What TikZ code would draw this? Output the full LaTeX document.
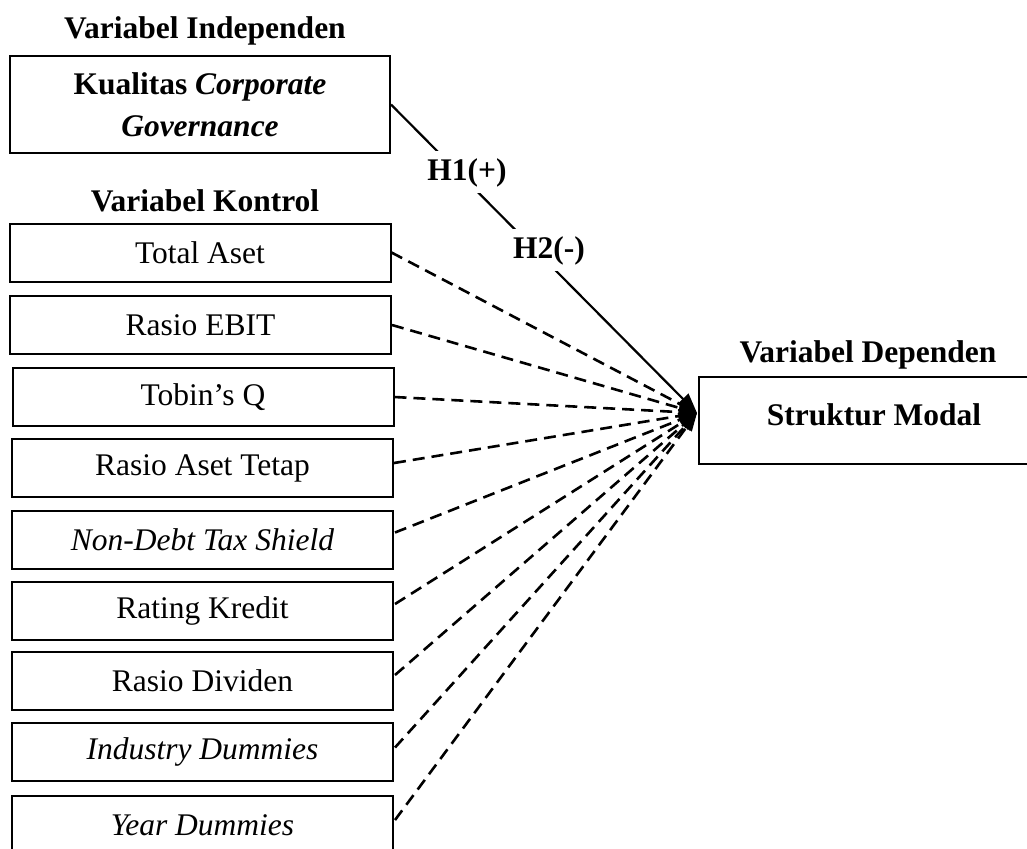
\documentclass[tikz,border=0pt]{standalone}
\usepackage{fontspec}
\setmainfont{Liberation Serif}
\usetikzlibrary{arrows.meta,calc}
\tikzset{
  ctrl/.style={draw, line width=1pt, minimum width=190.5pt, minimum height=29pt, inner sep=0pt, font=\fontsize{15.75}{20}\selectfont},
  title/.style={anchor=base, font=\fontsize{15.75}{20}\selectfont\bfseries},
  hyp/.style={anchor=base, fill=white, font=\fontsize{15.75}{20}\selectfont\bfseries},
  dashline/.style={line width=1.3pt, dash pattern=on 6pt off 3.5pt, -{Triangle[length=9pt,width=6.5pt]}},
  solidline/.style={line width=1.1pt, -{Triangle[length=10pt,width=7.5pt]}}
}
\begin{document}
\begin{tikzpicture}[x=0.5pt,y=-0.5pt]
\useasboundingbox (0,0) rectangle (1027,848);
\clip (0,0) rectangle (1027,848);
% titles
\node[title] (tind) at (205,38) {Variabel Independen};
\node[title] (tkon) at (205,211) {Variabel Kontrol};
\node[title] (tdep) at (868,362) {Variabel Dependen};
% independent box
\node[draw, line width=1pt, minimum width=190pt, minimum height=48.5pt, inner sep=0pt, align=center,
      font=\fontsize{15.75}{21}\selectfont\bfseries] (iv) at (200,104.5)
  {Kualitas \textit{Corporate}\\\textit{Governance}};
% dependent box
\node[draw, line width=1pt, minimum width=175pt, minimum height=43.5pt, inner sep=0pt] (dep) at (874,420.5) {};
\node[title] (depl) at (874,425) {Struktur Modal};
\coordinate (tip) at (697,413);
% control boxes
\node[ctrl] (b1) at (200,252.5) {Total Aset};
\node[ctrl] (b2) at (200.5,325) {Rasio EBIT};
\node[ctrl] (b3) at (203,397) {Tobin’s Q};
\node[ctrl] (b4) at (202.5,468) {Rasio Aset Tetap};
\node[ctrl] (b5) at (202.5,539.5) {\textit{Non-Debt Tax Shield}};
\node[ctrl] (b6) at (202.5,611) {Rating Kredit};
\node[ctrl] (b7) at (202.5,681) {Rasio Dividen};
\node[ctrl] (b8) at (202.5,751.5) {\textit{Industry Dummies}};
\node[ctrl] (b9) at (202.5,825) {\textit{Year Dummies}};
% solid hypothesis line
\draw[solidline] (iv.east) -- (tip);
\node[hyp] (h1) at (467,180) {H1(+)};
\node[hyp] (h2) at (549,258) {H2(-)};
% dashed control lines
\draw[dashline] (b1.east) -- (tip);
\draw[dashline] (b2.east) -- (tip);
\draw[dashline] (b3.east) -- (tip);
\draw[dashline] ($(b4.east)+(0,-5)$) -- (tip);
\draw[dashline] ($(b5.east)+(1,-7)$) -- (tip);
\draw[dashline] ($(b6.east)+(1,-7)$) -- (tip);
\draw[dashline] ($(b7.east)+(1,-6)$) -- (tip);
\draw[dashline] ($(b8.east)+(1,-4)$) -- (tip);
\draw[dashline] ($(b9.east)+(1,-5)$) -- (tip);
\end{tikzpicture}
\end{document}
